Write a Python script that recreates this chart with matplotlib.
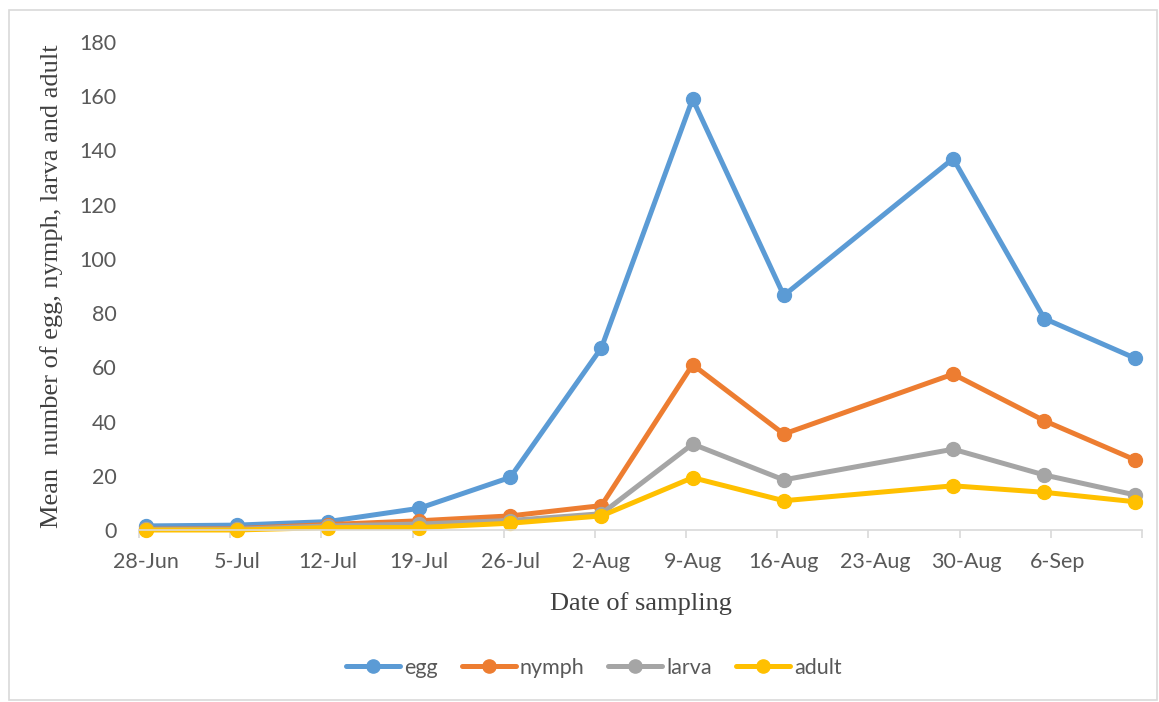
import matplotlib
matplotlib.use("Agg")
import matplotlib.pyplot as plt
import pandas as pd
from matplotlib.patches import Rectangle

# ---- data ----
dates = ["2000-06-28", "2000-07-05", "2000-07-12", "2000-07-19", "2000-07-26",
         "2000-08-02", "2000-08-09", "2000-08-16", "2000-08-29", "2000-09-05",
         "2000-09-12"]
egg = [1.5, 1.8, 3.1, 8.0, 19.4, 67.2, 159.0, 86.5, 137.0, 78.0, 63.3]
nymph = [0.3, 0.5, 2.0, 3.4, 5.2, 9.0, 61.0, 35.4, 57.5, 40.3, 25.8]
larva = [0.2, 0.3, 1.5, 2.2, 3.5, 6.0, 31.7, 18.5, 29.8, 20.3, 12.9]
adult = [0.0, 0.0, 0.9, 0.9, 2.5, 5.2, 19.3, 10.8, 16.3, 13.9, 10.4]
tick_labels = ["28-Jun", "5-Jul", "12-Jul", "19-Jul", "26-Jul", "2-Aug",
               "9-Aug", "16-Aug", "23-Aug", "30-Aug", "6-Sep"]
series_names = ["egg", "nymph", "larva", "adult"]
colors = ["#5B9BD5", "#ED7D31", "#A5A5A5", "#FFC000"]

start = pd.Timestamp("2000-06-28")
end = pd.Timestamp("2000-09-13")
xd = [(pd.Timestamp(d) - start).days + 0.5 for d in dates]
span = (end - start).days

TICK_FONT = "Lato"
TICK_SIZE = 15.5

fig = plt.figure(figsize=(11.59, 7.02), dpi=100)
fig.patches.append(Rectangle((9 / 1159, 2 / 702), 1148 / 1159, 690 / 702,
                             transform=fig.transFigure, fill=False,
                             edgecolor="#D9D9D9", linewidth=1.2))
ax = fig.add_axes([139 / 1159, 172 / 702, 1003 / 1159, 488 / 702])

for name, vals, c in zip(series_names, [egg, nymph, larva, adult], colors):
    ax.plot(xd, vals, color=c, linewidth=3.6, marker="o", markersize=10,
            solid_capstyle="round", label=name, clip_on=False)

ax.set_xlim(0, span)
ax.set_ylim(0, 180)
ax.set_yticks(range(0, 181, 20))

ax.set_xticks(list(range(0, span + 1, 7)))
ax.set_xticklabels([])
ax.set_xticks([i * 7 + 0.5 for i in range(len(tick_labels))], minor=True)
ax.set_xticklabels(tick_labels, minor=True)
ax.tick_params(axis="x", which="major", length=6, width=1.2, color="#D9D9D9",
               direction="out")
ax.tick_params(axis="x", which="minor", length=0, pad=16, labelsize=TICK_SIZE,
               labelcolor="#595959")
ax.tick_params(axis="y", length=0, pad=16, labelsize=TICK_SIZE,
               labelcolor="#595959")
for lbl in ax.get_xticklabels(minor=True) + ax.get_yticklabels():
    lbl.set_fontfamily(TICK_FONT)

for s in ["top", "right", "left"]:
    ax.spines[s].set_visible(False)
ax.spines["bottom"].set_color("#D9D9D9")
ax.spines["bottom"].set_linewidth(1.2)

ax.set_xlabel("Date of sampling", fontfamily="Liberation Serif", fontsize=19,
              color="#404040", labelpad=14)
ax.set_ylabel("Mean  number of egg, nymph, larva and adult",
              fontfamily="Liberation Serif", fontsize=19, color="#404040",
              labelpad=12)

leg = fig.legend(loc="center", bbox_to_anchor=(594 / 1159, 1 - 668 / 702),
                 ncol=4, frameon=False,
                 prop={"family": TICK_FONT, "size": TICK_SIZE},
                 handlelength=2.5, handletextpad=0.2, columnspacing=1.1,
                 markerscale=0.95)
for t in leg.get_texts():
    t.set_color("#595959")

fig.savefig("out.png", dpi=100)
